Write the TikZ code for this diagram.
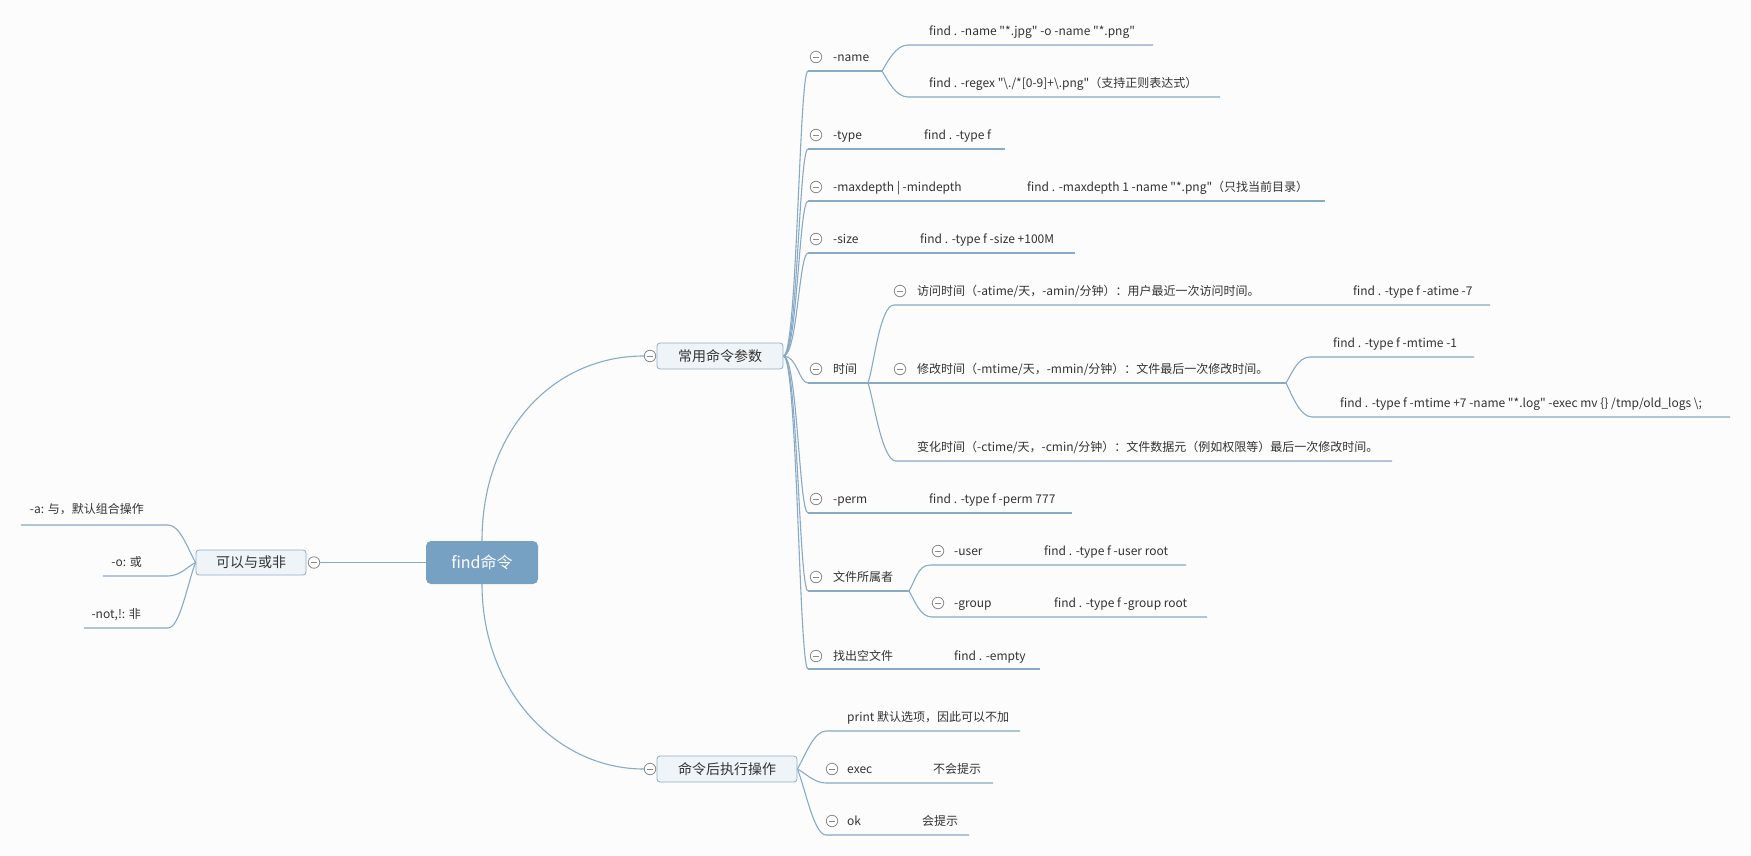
\documentclass[tikz,border=0pt]{standalone}
\usepackage{fontspec}
\setmainfont{Noto Sans CJK SC}[Ligatures=TeXOff]
\definecolor{bg}{HTML}{FCFCFC}
\definecolor{ln}{HTML}{88AAC6}
\definecolor{txt}{HTML}{333333}
\definecolor{rootfill}{HTML}{76A1C2}
\definecolor{subfill}{HTML}{EEF4F8}
\definecolor{subdraw}{HTML}{8FAEC6}
\definecolor{togc}{HTML}{8A8A8A}
\begin{document}
\begin{tikzpicture}[x=1pt,y=-1pt,
  lbl/.style={anchor=base west,yshift=-4.5pt,inner sep=0pt,font=\fontsize{12}{14}\selectfont,text=txt},
  lble/.style={anchor=base east,yshift=-4.5pt,inner sep=0pt,font=\fontsize{12}{14}\selectfont,text=txt},
  edge/.style={draw=ln,line width=1.1pt},
  togl/.style={circle,draw=togc,fill=white,line width=0.8pt,minimum size=11.5pt,inner sep=0pt,
     path picture={\draw[togc,line width=0.8pt] ([xshift=2.5pt]path picture bounding box.west) -- ([xshift=-2.5pt]path picture bounding box.east);}},
  subbox/.style={draw=subdraw,fill=subfill,rounded corners=3pt,line width=0.8pt,font=\fontsize{14}{16}\selectfont,text=txt,inner sep=0pt},
  ]
\fill[bg] (0,0) rectangle (1751,856);
\useasboundingbox (0,0) rectangle (1751,856);

% main nodes
\node[fill=rootfill,rounded corners=5pt,minimum width=112pt,minimum height=43pt,text=white,font=\fontsize{16}{18}\selectfont,inner sep=0pt] (root) at (482,562.5) {find命令};
\node[subbox,minimum width=126pt,minimum height=26pt] (p1) at (720,356) {常用命令参数};
\node[subbox,minimum width=140pt,minimum height=26pt] (p2) at (727,769) {命令后执行操作};
\node[subbox,minimum width=110pt,minimum height=25pt] (p3) at (251,562.5) {可以与或非};
\node[togl] (t1) at (650,356) {};
\node[togl] (t2) at (650,769) {};
\node[togl] (t3) at (314,562.5) {};

\draw[edge] (root.north) .. controls (482,432) and (552,356) .. (t1.west);
\draw[edge] (root.south) .. controls (482,690) and (556,769) .. (t2.west);
\draw[edge] (root.west) -- (t3.east);

% ---------- children of p1 ----------
% -name
\coordinate (sName) at (808,71); \coordinate (jName) at (882,71);
\node[togl] (tName) at (816,57) {};
\node[lbl] (lName) at (833,57) {-name};
\coordinate (sNa) at (908,45); \coordinate (eNa) at (1153,45);
\coordinate (sNb) at (908,97); \coordinate (eNb) at (1220,97);
\node[lbl] (lNa) at (929,31) {find . -name "*.jpg" -o -name "*.png"};
\node[lbl] (lNb) at (929,83) {find . -regex "\textbackslash./*[0-9]+\textbackslash.png"（支持正则表达式）};
% -type
\coordinate (sType) at (808,149); \coordinate (eType) at (1005,149);
\node[togl] (tType) at (816,135) {};
\node[lbl] (lType) at (833,135) {-type};
\node[lbl] (cType) at (924,135) {find . -type f};
% -maxdepth
\coordinate (sDep) at (808,201); \coordinate (eDep) at (1325,201);
\node[togl] (tDep) at (816,187) {};
\node[lbl] (lDep) at (833,187) {-maxdepth | -mindepth};
\node[lbl] (cDep) at (1027,187) {find . -maxdepth 1 -name "*.png"（只找当前目录）};
% -size
\coordinate (sSize) at (808,253); \coordinate (eSize) at (1075,253);
\node[togl] (tSize) at (816,239) {};
\node[lbl] (lSize) at (833,239) {-size};
\node[lbl] (cSize) at (920,239) {find . -type f -size +100M};
% time
\coordinate (sTime) at (808,383); \coordinate (jTime) at (868,383);
\node[togl] (tTime) at (816,369) {};
\node[lbl] (lTime) at (833,369) {时间};
\coordinate (sAcc) at (894,305); \coordinate (eAcc) at (1490,305);
\node[togl] (tAcc) at (900,291) {};
\node[lbl] (lAcc) at (917,291) {访问时间（-atime/天，-amin/分钟）：用户最近一次访问时间。};
\node[lbl] (cAcc) at (1353,291) {find . -type f -atime -7};
\coordinate (jMod) at (1286,383);
\node[togl] (tMod) at (900,369) {};
\node[lbl] (lMod) at (917,369) {修改时间（-mtime/天，-mmin/分钟）：文件最后一次修改时间。};
\coordinate (sM1) at (1310,357); \coordinate (eM1) at (1474,357);
\coordinate (sM2) at (1312,417); \coordinate (eM2) at (1730,417);
\node[lbl] (cM1) at (1333,343) {find . -type f -mtime -1};
\node[lbl] (cM2) at (1340,403) {find . -type f -mtime +7 -name "*.log" -exec mv \{\} /tmp/old\_logs \textbackslash;};
\coordinate (sChg) at (896,461); \coordinate (eChg) at (1392,461);
\node[lbl] (lChg) at (917,447) {变化时间（-ctime/天，-cmin/分钟）：文件数据元（例如权限等）最后一次修改时间。};
% -perm
\coordinate (sPerm) at (808,513); \coordinate (ePerm) at (1072,513);
\node[togl] (tPerm) at (816,499) {};
\node[lbl] (lPerm) at (833,499) {-perm};
\node[lbl] (cPerm) at (929,499) {find . -type f -perm 777};
% owner
\coordinate (sOwn) at (808,591); \coordinate (jOwn) at (909,591);
\node[togl] (tOwn) at (816,577) {};
\node[lbl] (lOwn) at (833,577) {文件所属者};
\coordinate (sUser) at (930,565); \coordinate (eUser) at (1186,565);
\node[togl] (tUser) at (938,551) {};
\node[lbl] (lUser) at (954,551) {-user};
\node[lbl] (cUser) at (1044,551) {find . -type f -user root};
\coordinate (sGrp) at (932,617); \coordinate (eGrp) at (1207,617);
\node[togl] (tGrp) at (938,603) {};
\node[lbl] (lGrp) at (954,603) {-group};
\node[lbl] (cGrp) at (1054,603) {find . -type f -group root};
% empty
\coordinate (sEmp) at (808,669); \coordinate (eEmp) at (1040,669);
\node[togl] (tEmp) at (816,656) {};
\node[lbl] (lEmp) at (833,656) {找出空文件};
\node[lbl] (cEmp) at (954,656) {find . -empty};

% trunk curves p1
\foreach \s in {sName,sType,sDep,sSize,sTime,sPerm,sOwn,sEmp}
  \draw[edge] (p1.east) .. controls +(14,0) and +(-9,0) .. (\s);
% underlines
\draw[edge] (sName) -- (jName);
\draw[edge] (jName) .. controls +(6,-10) and +(-12,0) .. (sNa) -- (eNa);
\draw[edge] (jName) .. controls +(6,10) and +(-12,0) .. (sNb) -- (eNb);
\draw[edge] (sType) -- (eType);
\draw[edge] (sDep) -- (eDep);
\draw[edge] (sSize) -- (eSize);
\draw[edge] (sTime) -- (jTime) -- (jMod);
\draw[edge] (jTime) .. controls +(6,-18) and +(-14,0) .. (sAcc) -- (eAcc);
\draw[edge] (jTime) .. controls +(6,18) and +(-14,0) .. (sChg) -- (eChg);
\draw[edge] (jMod) .. controls +(6,-10) and +(-12,0) .. (sM1) -- (eM1);
\draw[edge] (jMod) .. controls +(6,12) and +(-12,0) .. (sM2) -- (eM2);
\draw[edge] (sPerm) -- (ePerm);
\draw[edge] (sOwn) -- (jOwn);
\draw[edge] (jOwn) .. controls +(6,-10) and +(-12,0) .. (sUser) -- (eUser);
\draw[edge] (jOwn) .. controls +(6,10) and +(-12,0) .. (sGrp) -- (eGrp);
\draw[edge] (sEmp) -- (eEmp);

% ---------- children of p2 ----------
\coordinate (sPr) at (826,731); \coordinate (ePr) at (1020,731);
\node[lbl] (lPr) at (847,717) {print 默认选项，因此可以不加};
\coordinate (sEx) at (826,783); \coordinate (eEx) at (993,783);
\node[togl] (tEx) at (832,769) {};
\node[lbl] (lEx) at (847,769) {exec};
\node[lbl] (cEx) at (933,769) {不会提示};
\coordinate (sOk) at (826,835); \coordinate (eOk) at (969,835);
\node[togl] (tOk) at (832,821) {};
\node[lbl] (lOk) at (847,821) {ok};
\node[lbl] (cOk) at (922,821) {会提示};
\draw[edge] (p2.east) .. controls +(8,-14) and +(-12,0) .. (sPr) -- (ePr);
\draw[edge] (p2.east) .. controls +(8,4) and +(-12,0) .. (sEx) -- (eEx);
\draw[edge] (p2.east) .. controls +(8,20) and +(-12,0) .. (sOk) -- (eOk);

% ---------- children of p3 ----------
\coordinate (jA) at (168,525); \coordinate (eA) at (21,525);
\coordinate (jO) at (168,576); \coordinate (eO) at (103,576);
\coordinate (jN) at (168,628); \coordinate (eN) at (84,628);
\node[lble] (lA) at (144,509) {-a: 与，默认组合操作};
\node[lble] (lO) at (142,562) {-o: 或};
\node[lble] (lN) at (141,614) {-not,!: 非};
\draw[edge] (p3.west) .. controls +(-8,-14) and +(12,0) .. (jA) -- (eA);
\draw[edge] (p3.west) .. controls +(-8,4) and +(12,0) .. (jO) -- (eO);
\draw[edge] (p3.west) .. controls +(-8,20) and +(12,0) .. (jN) -- (eN);
\end{tikzpicture}
\end{document}
